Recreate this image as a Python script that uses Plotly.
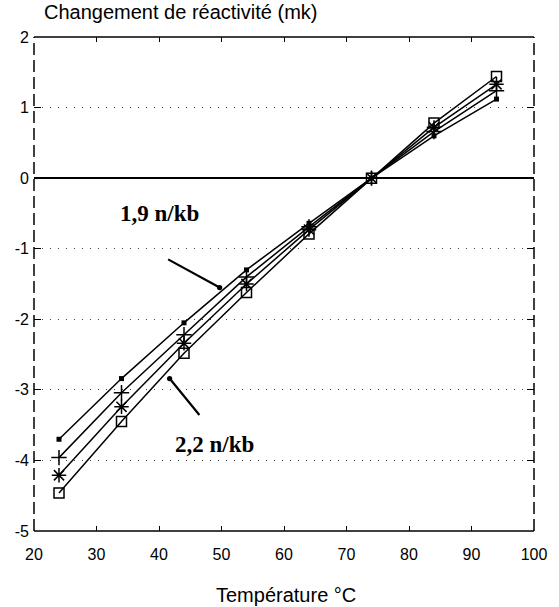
import plotly.graph_objects as go

# Temperature points (°C)
temperature = [24, 34, 44, 54, 64, 74, 84, 94]

# Reactivity change (mk) for the four cases
reac_dot = [-3.70, -2.84, -2.05, -1.30, -0.64, 0.0, 0.60, 1.12]
reac_plus = [-3.96, -3.04, -2.22, -1.40, -0.69, 0.0, 0.66, 1.24]
reac_star = [-4.21, -3.24, -2.34, -1.50, -0.73, 0.0, 0.72, 1.33]
reac_square = [-4.46, -3.45, -2.48, -1.62, -0.79, 0.0, 0.78, 1.44]

x_ticks = [20, 30, 40, 50, 60, 70, 80, 90, 100]
y_ticks = [-5, -4, -3, -2, -1, 0, 1, 2]
y_tick_text = ["-5", "-4", "-3", "-2", "-1", "0", "1", "2"]

series = [
    (reac_dot, dict(symbol="square", size=5, color="black")),
    (reac_plus, dict(symbol="cross-thin", size=11, color="black",
                     line=dict(width=1.5, color="black"))),
    (reac_star, dict(symbol="asterisk", size=12, color="black",
                     line=dict(width=1.5, color="black"))),
    (reac_square, dict(symbol="square-open", size=10, color="black",
                       line=dict(width=1.5, color="black"))),
]

fig = go.Figure()
for values, marker in series:
    fig.add_trace(go.Scatter(
        x=temperature, y=values, mode="lines+markers",
        line=dict(color="black", width=1.5),
        marker=marker, showlegend=False,
    ))

font_sans = "Liberation Sans, Arial, sans-serif"
font_serif = "Liberation Serif, Times New Roman, serif"

fig.update_layout(
    width=559, height=607,
    margin=dict(l=34, r=16, t=37, b=76),
    paper_bgcolor="white", plot_bgcolor="white",
    font=dict(family=font_sans, color="black", size=16),
    xaxis=dict(
        range=[20, 100], tickvals=x_ticks, ticks="inside", ticklen=5,
        tickcolor="black", showgrid=False, zeroline=False, showline=False,
        mirror="ticks", ticklabelstandoff=12,
        tickfont=dict(size=16, color="black"),
    ),
    yaxis=dict(
        range=[-5, 2], tickvals=y_ticks, ticktext=y_tick_text,
        ticks="inside", ticklen=7,
        tickcolor="black", mirror="ticks", showline=False,
        ticklabelstandoff=4,
        showgrid=True, gridcolor="#444", griddash="1px,7px", gridwidth=1,
        zeroline=True, zerolinecolor="black", zerolinewidth=1.5,
        tickfont=dict(size=16, color="black"),
    ),
)

# Frame: solid top/bottom, dashed sides
frame = dict(xref="paper", yref="paper", line=dict(color="black", width=1.5))
fig.add_shape(type="line", x0=0, x1=1, y0=1, y1=1, **frame)
fig.add_shape(type="line", x0=0, x1=1, y0=0, y1=0, **frame)
fig.add_shape(type="line", x0=0, x1=0, y0=0, y1=1, xref="paper", yref="paper",
              line=dict(color="black", width=1.5, dash="12px,5px"))
fig.add_shape(type="line", x0=1, x1=1, y0=0, y1=1, xref="paper", yref="paper",
              line=dict(color="black", width=1.5, dash="12px,5px"))

# Axis titles
fig.add_annotation(text="Changement de réactivité (mk)", xref="paper", yref="paper",
                   x=0.0157, y=1.0506, xanchor="left", yanchor="middle",
                   showarrow=False, font=dict(family=font_sans, size=20))
fig.add_annotation(text="Température °C", xref="paper", yref="paper",
                   x=0.503, y=-0.1296, xanchor="center", yanchor="middle",
                   showarrow=False, font=dict(family=font_sans, size=20))

# Curve labels with pointers
fig.add_annotation(text="<b>1,9 n/kb</b>", x=40.1, y=-0.50, showarrow=False,
                   font=dict(family=font_serif, size=23))
fig.add_annotation(text="<b>2,2 n/kb</b>", x=48.8, y=-3.77, showarrow=False,
                   font=dict(family=font_serif, size=23))
fig.add_annotation(text="", x=49.7, y=-1.55, ax=-53, ay=-29, showarrow=True,
                   arrowhead=6, arrowsize=0.6, arrowwidth=2.2, arrowcolor="black")
fig.add_annotation(text="", x=41.7, y=-2.84, ax=31, ay=38, showarrow=True,
                   arrowhead=6, arrowsize=0.6, arrowwidth=2.2, arrowcolor="black")

fig.write_html("out.html")
